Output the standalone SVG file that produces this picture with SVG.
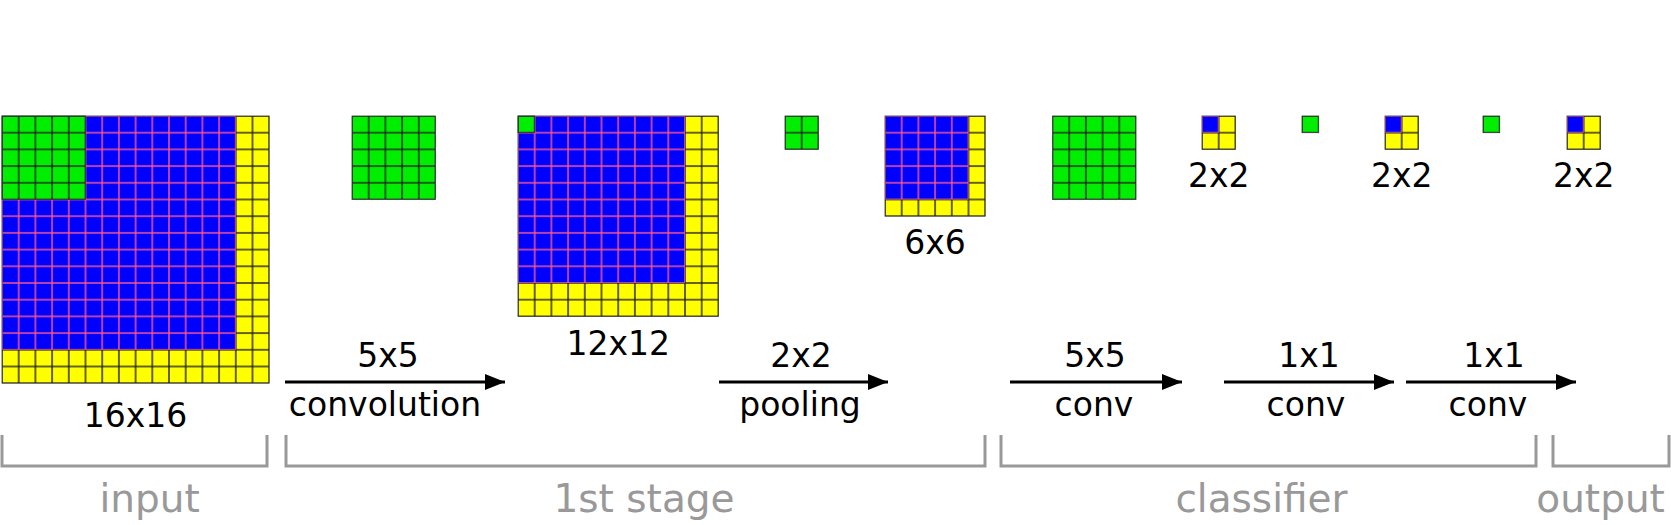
<svg xmlns="http://www.w3.org/2000/svg" width="1671" height="525" viewBox="0 0 1671 525">
<style>
text{font-family:"DejaVu Sans","Liberation Sans",sans-serif;text-anchor:middle}
.lbl{font-size:33px;fill:#000}
.grp{font-size:39px;fill:#999}
.arrow{stroke:#000;stroke-width:3;fill:none}
.brk{stroke:#999;stroke-width:3;fill:none}
.ol{fill:none;stroke:#333;stroke-width:0.8}
.olb{fill:none;stroke:#ff5a8c;stroke-width:0.8}
</style>
<defs>
<pattern id="pY" width="16.7" height="16.7" patternUnits="userSpaceOnUse"><rect width="16.7" height="16.7" fill="#ffff00" stroke="#222" stroke-width="1.4"/></pattern>
<pattern id="pB" width="16.7" height="16.7" patternUnits="userSpaceOnUse"><rect width="16.7" height="16.7" fill="#0000ff" stroke="#ff5a8c" stroke-width="1.4"/></pattern>
<pattern id="pG" width="16.7" height="16.7" patternUnits="userSpaceOnUse"><rect width="16.7" height="16.7" fill="#00ee00" stroke="#222" stroke-width="1.4"/></pattern>
<marker id="ah" viewBox="0 0 20 16" refX="20" refY="8" markerWidth="20" markerHeight="16" markerUnits="userSpaceOnUse" orient="auto"><path d="M0,0 L20,8 L0,16 Z" fill="#000"/></marker>
</defs>

<g id="input" transform="translate(2,116)">
<rect width="267.2" height="267.2" fill="url(#pY)"/>
<rect width="233.8" height="233.8" fill="url(#pB)"/>
<rect width="83.5" height="83.5" fill="url(#pG)"/>
<rect width="267.2" height="267.2" class="ol"/>
<rect width="83.5" height="83.5" class="ol"/>
<text class="lbl" x="133.4" y="311">16x16</text>
</g>

<g id="kernel-5x5-conv" transform="translate(352,116)">
<rect width="83.5" height="83.5" fill="url(#pG)"/>
<rect width="83.5" height="83.5" class="ol"/>
</g>

<g id="map-12x12" transform="translate(518,116)">
<rect width="200.4" height="200.4" fill="url(#pY)"/>
<rect width="167" height="167" fill="url(#pB)"/>
<rect width="16.7" height="16.7" fill="url(#pG)"/>
<rect width="200.4" height="200.4" class="ol"/>
<rect width="16.7" height="16.7" class="ol"/>
<text class="lbl" x="100.2" y="239">12x12</text>
</g>

<g id="kernel-2x2-pool" transform="translate(785,116)">
<rect width="33.4" height="33.4" fill="url(#pG)"/>
<rect width="33.4" height="33.4" class="ol"/>
</g>

<g id="map-6x6" transform="translate(885,116)">
<rect width="100.2" height="100.2" fill="url(#pY)"/>
<rect width="83.5" height="83.5" fill="url(#pB)"/>
<rect width="100.2" height="100.2" class="ol"/>
<text class="lbl" x="50.1" y="138">6x6</text>
</g>

<g id="kernel-5x5-cls" transform="translate(1052.5,116)">
<rect width="83.5" height="83.5" fill="url(#pG)"/>
<rect width="83.5" height="83.5" class="ol"/>
</g>

<g id="map-2x2-a" transform="translate(1202,116)">
<rect width="33.4" height="33.4" fill="url(#pY)"/>
<rect width="16.7" height="16.7" fill="url(#pB)"/>
<rect width="33.4" height="33.4" class="ol"/>
<text class="lbl" x="16.7" y="71">2x2</text>
</g>

<g id="kernel-1x1-a" transform="translate(1302,116)">
<rect width="16.7" height="16.7" fill="url(#pG)"/>
<rect width="16.7" height="16.7" class="ol"/>
</g>

<g id="map-2x2-b" transform="translate(1385,116)">
<rect width="33.4" height="33.4" fill="url(#pY)"/>
<rect width="16.7" height="16.7" fill="url(#pB)"/>
<rect width="33.4" height="33.4" class="ol"/>
<text class="lbl" x="16.7" y="71">2x2</text>
</g>

<g id="kernel-1x1-b" transform="translate(1483,116)">
<rect width="16.7" height="16.7" fill="url(#pG)"/>
<rect width="16.7" height="16.7" class="ol"/>
</g>

<g id="map-2x2-c" transform="translate(1567,116)">
<rect width="33.4" height="33.4" fill="url(#pY)"/>
<rect width="16.7" height="16.7" fill="url(#pB)"/>
<rect width="33.4" height="33.4" class="ol"/>
<text class="lbl" x="16.7" y="71">2x2</text>
</g>

<g id="connectors">
<line class="arrow" x1="285" y1="382" x2="505" y2="382" marker-end="url(#ah)"/>
<line class="arrow" x1="719" y1="382" x2="888" y2="382" marker-end="url(#ah)"/>
<line class="arrow" x1="1010" y1="382" x2="1182" y2="382" marker-end="url(#ah)"/>
<line class="arrow" x1="1224" y1="382" x2="1394" y2="382" marker-end="url(#ah)"/>
<line class="arrow" x1="1406" y1="382" x2="1576" y2="382" marker-end="url(#ah)"/>
</g>

<g id="arrow-labels">
<text class="lbl" x="388" y="367">5x5</text>
<text class="lbl" x="385" y="416">convolution</text>
<text class="lbl" x="801" y="367">2x2</text>
<text class="lbl" x="800" y="416">pooling</text>
<text class="lbl" x="1095" y="367">5x5</text>
<text class="lbl" x="1094" y="416">conv</text>
<text class="lbl" x="1309" y="367">1x1</text>
<text class="lbl" x="1306" y="416">conv</text>
<text class="lbl" x="1494" y="367">1x1</text>
<text class="lbl" x="1488" y="416">conv</text>
</g>

<g id="stages">
<path class="brk" d="M2,435 V466 H267 V435"/>
<path class="brk" d="M286,435 V466 H985 V435"/>
<path class="brk" d="M1001,435 V466 H1536 V435"/>
<path class="brk" d="M1553,435 V466 H1669 V435"/>
<text class="grp" x="149.6" y="512">input</text>
<text class="grp" x="644" y="512">1st stage</text>
<text class="grp" x="1261.5" y="512">classifier</text>
<text class="grp" x="1600.6" y="512">output</text>
</g>
</svg>
